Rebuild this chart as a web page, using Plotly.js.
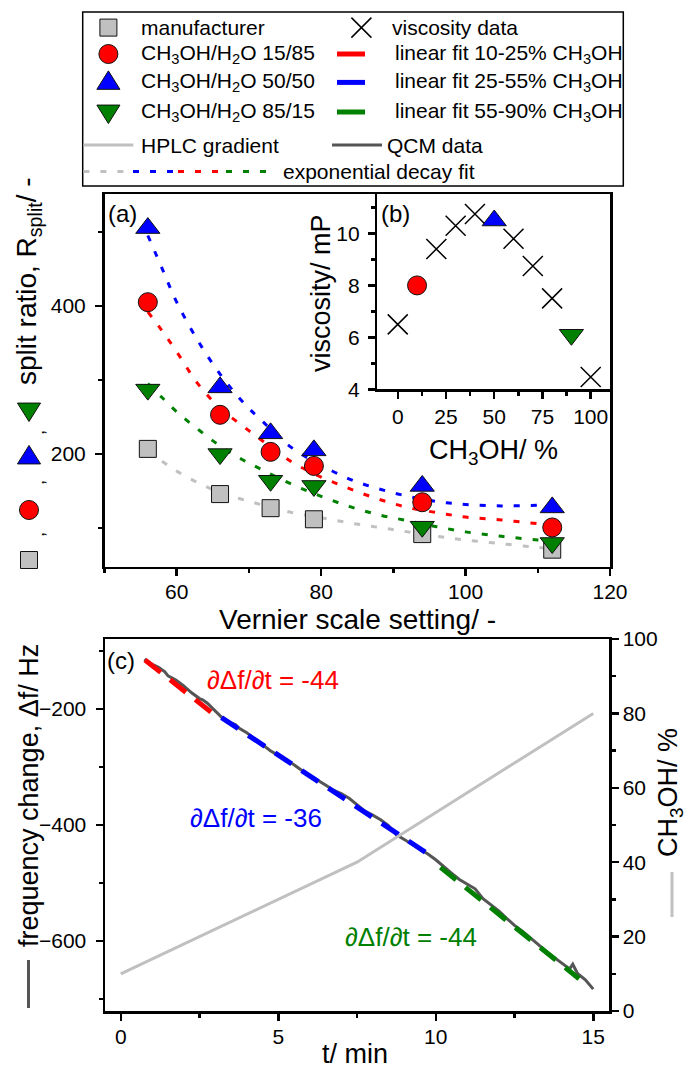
<!DOCTYPE html>
<html><head><meta charset="utf-8">
<script src="https://cdn.plot.ly/plotly-3.0.1.min.js"></script>
<style>html,body{margin:0;padding:0;background:#fff}</style>
</head><body><div id="chart" style="width:686px;height:1068px"></div>
<script>
// ---------- Panel (a): split ratio vs Vernier scale setting ----------
const vernier = [56, 66, 73, 79, 94, 112];
const splitManufacturer = [207, 146, 127, 112, 92, 71];
const split15_85 = [405, 253, 203, 184, 135, 101];
const split50_50 = [505, 290, 228, 205, 157, 128];
const split85_15 = [287, 200, 164, 157, 102, 80];

// exponential decay fits
const fitVernier = [56, 58, 60, 63, 66, 69, 72, 76, 80, 84, 88, 92, 96, 100, 105, 110, 112];
const fitManufacturer = [203, 190, 177, 161, 148, 139, 131, 121, 114, 107, 101, 95, 89, 84, 79, 74, 72];
const fit15_85 = [392, 366, 338, 294, 262, 239, 217, 189, 169, 153, 139, 128, 121, 115, 111, 106, 104];
const fit50_50 = [495, 450, 405, 352, 308, 272, 243, 208, 185, 166, 153, 143, 136, 132, 130, 131, 132];
const fit85_15 = [295, 276, 257, 233, 211, 193, 178, 159, 143, 129, 118, 110, 102, 95, 89, 84, 82];

// ---------- Panel (b): viscosity ----------
const methanolPct = [0, 20, 30, 40, 60, 70, 80, 100];
const viscosity = [6.5, 9.4, 10.3, 10.75, 9.8, 8.75, 7.5, 4.47];
const mixPct = [10, 50, 90];
const mixViscosity = [8.0, 10.5, 6.1];

// ---------- Panel (c): QCM ----------
const qcmTime = [0.75,1.0,1.2,1.4,1.5,1.75,2.0,2.25,2.5,2.6,2.75,3.0,3.25,3.5,3.65,3.75,4.0,4.25,4.5,4.75,5.0,5.25,5.5,5.75,6.0,6.25,6.5,6.75,7.0,7.25,7.5,7.75,8.0,8.25,8.5,8.75,9.0,9.25,9.5,9.75,10.0,10.25,10.5,10.75,11.0,11.25,11.5,11.75,12.0,12.25,12.5,12.75,13.0,13.25,13.5,13.75,14.0,14.25,14.35,14.5,14.75,15.0];
const qcmFreq = [-114,-123,-128,-136,-143,-150,-160,-172,-182,-184,-190,-203,-217,-224,-227,-233,-241,-251,-262,-272,-280,-288,-296,-306,-314,-322,-331,-340,-346,-354,-365,-376,-383,-391,-401,-417,-425,-433,-441,-450,-460,-472,-483,-494,-502,-510,-527,-537,-548,-561,-573,-583,-594,-606,-618,-628,-637,-648,-640,-656,-667,-683];
const hplcTime = [0, 7.5, 15];
const hplcMeOH = [10, 40, 80];
const fitRedTime = [0.77, 3.16], fitRedFreq = [-115.5, -217.8];
const fitBlueTime = [3.2, 9.9], fitBlueFreq = [-215, -455];
const fitGreenTime = [10.15, 14.55], fitGreenFreq = [-473, -665];
const slopeLabels = ['∂Δf/∂t = -44', '∂Δf/∂t = -36', '∂Δf/∂t = -44'];
const slopeLabelTime = [4.84, 4.29, 9.2];
const slopeLabelFreq = [-150, -388, -593];

// ---------- styling / layout ----------
const W = 686, H = 1068;
const px = x => x / W, py = y => 1 - y / H;
const FONT = 'Liberation Sans, Arial, sans-serif';
const RED = '#ff0000', BLUE = '#0000ff', GREEN = '#008000', GRAY = '#c0c0c0', DGRAY = '#555555';
const DOT = '6px,11px';

function axisStyle(extra) {
  return Object.assign({
    showline: true, linecolor: '#000', linewidth: 2.5, mirror: true,
    ticks: 'outside', ticklen: 7, tickwidth: 2.5, tickcolor: '#000',
    showgrid: false, zeroline: false, fixedrange: true,
    tickfont: {size: 21, color: '#000', family: FONT}
  }, extra);
}
const minor = d => ({ticks: 'outside', ticklen: 4, tickwidth: 2.5, tickcolor: '#000', showgrid: false, dtick: d});

const mk = (sym, size, color) => ({symbol: sym, size: size, color: color, line: {color: '#111', width: 1}});

const traces = [
  // (a) fits
  {x: fitVernier, y: fitManufacturer, mode: 'lines', line: {color: GRAY, width: 3, dash: DOT, shape: 'spline'}, xaxis: 'x', yaxis: 'y', showlegend: false, hoverinfo: 'skip'},
  {x: fitVernier, y: fit85_15, mode: 'lines', line: {color: GREEN, width: 3, dash: DOT, shape: 'spline'}, xaxis: 'x', yaxis: 'y', showlegend: false, hoverinfo: 'skip'},
  {x: fitVernier, y: fit15_85, mode: 'lines', line: {color: RED, width: 3, dash: DOT, shape: 'spline'}, xaxis: 'x', yaxis: 'y', showlegend: false, hoverinfo: 'skip'},
  {x: fitVernier, y: fit50_50, mode: 'lines', line: {color: BLUE, width: 3, dash: DOT, shape: 'spline'}, xaxis: 'x', yaxis: 'y', showlegend: false, hoverinfo: 'skip'},
  // (a) markers
  {x: vernier, y: splitManufacturer, mode: 'markers', marker: mk('square', 17, GRAY), name: 'manufacturer', xaxis: 'x', yaxis: 'y', showlegend: false},
  {x: vernier, y: split85_15, mode: 'markers', marker: mk('triangle-down', 21, GREEN), name: 'CH3OH/H2O 85/15', xaxis: 'x', yaxis: 'y', showlegend: false},
  {x: vernier, y: split15_85, mode: 'markers', marker: mk('circle', 19, RED), name: 'CH3OH/H2O 15/85', xaxis: 'x', yaxis: 'y', showlegend: false},
  {x: vernier, y: split50_50, mode: 'markers', marker: mk('triangle-up', 21, BLUE), name: 'CH3OH/H2O 50/50', xaxis: 'x', yaxis: 'y', showlegend: false},
  // (b)
  {x: methanolPct, y: viscosity, mode: 'markers', marker: {symbol: 'x-thin', size: 20, line: {color: '#000', width: 1.5}}, name: 'viscosity data', xaxis: 'x3', yaxis: 'y3', showlegend: false},
  {x: [mixPct[0]], y: [mixViscosity[0]], mode: 'markers', marker: mk('circle', 19, RED), xaxis: 'x3', yaxis: 'y3', showlegend: false},
  {x: [mixPct[1]], y: [mixViscosity[1]], mode: 'markers', marker: mk('triangle-up', 21, BLUE), xaxis: 'x3', yaxis: 'y3', showlegend: false},
  {x: [mixPct[2]], y: [mixViscosity[2]], mode: 'markers', marker: mk('triangle-down', 21, GREEN), xaxis: 'x3', yaxis: 'y3', showlegend: false},
  // (c)
  {x: qcmTime, y: qcmFreq, mode: 'lines', line: {color: DGRAY, width: 3}, name: 'QCM data', xaxis: 'x2', yaxis: 'y2', showlegend: false},
  {x: fitRedTime, y: fitRedFreq, mode: 'lines', line: {color: RED, width: 5, dash: '20px,12px'}, xaxis: 'x2', yaxis: 'y2', showlegend: false},
  {x: fitBlueTime, y: fitBlueFreq, mode: 'lines', line: {color: BLUE, width: 5, dash: '20px,12px'}, xaxis: 'x2', yaxis: 'y2', showlegend: false},
  {x: fitGreenTime, y: fitGreenFreq, mode: 'lines', line: {color: GREEN, width: 5, dash: '20px,12px'}, xaxis: 'x2', yaxis: 'y2', showlegend: false},
  {x: hplcTime, y: hplcMeOH, mode: 'lines', line: {color: GRAY, width: 3}, name: 'HPLC gradient', xaxis: 'x2', yaxis: 'y4', showlegend: false}
];

// ---------- decorative glyphs (legend + axis-title symbols) ----------
function glyph(kind, x, y, s, fill) {
  const b = {xref: 'paper', yref: 'paper', xsizemode: 'pixel', ysizemode: 'pixel',
             xanchor: px(x), yanchor: py(y), fillcolor: fill, line: {color: '#111', width: 1}, layer: 'above'};
  const h = s / 2;
  if (kind === 'square') return Object.assign(b, {type: 'rect', x0: -h, x1: h, y0: -h, y1: h});
  if (kind === 'circle') return Object.assign(b, {type: 'circle', x0: -h, x1: h, y0: -h, y1: h});
  const w = s * 0.55;
  if (kind === 'up') return Object.assign(b, {type: 'path', path: `M${-w},${-s*0.33} L${w},${-s*0.33} L0,${s*0.55} Z`});
  if (kind === 'down') return Object.assign(b, {type: 'path', path: `M${-w},${s*0.33} L${w},${s*0.33} L0,${-s*0.55} Z`});
  if (kind === 'x') return Object.assign(b, {type: 'path', fillcolor: 'rgba(0,0,0,0)', line: {color: '#000', width: 1.5}, path: `M${-h},${-h} L${h},${h} M${-h},${h} L${h},${-h}`});
}
function seg(x0, x1, y, color, width, dash) {
  return {type: 'line', xref: 'paper', yref: 'paper', x0: px(x0), x1: px(x1), y0: py(y), y1: py(y),
          line: {color: color, width: width, dash: dash || 'solid'}, layer: 'above'};
}
function vseg(x, y0, y1, color, width) {
  return {type: 'line', xref: 'paper', yref: 'paper', x0: px(x), x1: px(x), y0: py(y0), y1: py(y1),
          line: {color: color, width: width}, layer: 'above'};
}

const rowY = [27.6, 54, 82.4, 112, 145, 171.5];
const shapes = [
  {type: 'rect', xref: 'paper', yref: 'paper', x0: px(82.7), x1: px(623.3), y0: py(186), y1: py(12),
   line: {color: '#000', width: 1.5}, fillcolor: 'rgba(0,0,0,0)'},
  glyph('square', 108.4, rowY[0], 17, GRAY),
  glyph('circle', 108.4, rowY[1], 19, RED),
  glyph('up', 108.4, rowY[2], 21, BLUE),
  glyph('down', 108.4, rowY[3], 21, GREEN),
  glyph('x', 361.4, rowY[0], 20),
  seg(337, 365, rowY[1], RED, 5),
  seg(337, 365, rowY[2], BLUE, 5),
  seg(337, 365, rowY[3], GREEN, 5),
  seg(83.4, 133.3, rowY[4], GRAY, 3),
  seg(332, 382, rowY[4], DGRAY, 3),
  seg(83.4, 133, rowY[5], GRAY, 3, DOT),
  seg(133, 178, rowY[5], BLUE, 3, DOT),
  seg(178, 226, rowY[5], RED, 3, DOT),
  seg(226, 276, rowY[5], GREEN, 3, DOT),
  // symbols in the (a) y-axis title
  glyph('square', 29, 560, 17, GRAY),
  glyph('circle', 29, 510, 19, RED),
  glyph('up', 29, 457, 21, BLUE),
  glyph('down', 29, 410, 21, GREEN),
  // line keys of the (c) axis titles
  vseg(28.5, 960, 1008, DGRAY, 3),
  vseg(672, 872, 917, GRAY, 3)
];

function txt(text, x, y, o) {
  return Object.assign({xref: 'paper', yref: 'paper', x: px(x), y: py(y), text: text, showarrow: false,
    xanchor: 'left', yanchor: 'middle', font: {size: 21, color: '#000', family: FONT}}, o || {});
}
const f = s => ({size: s, color: '#000', family: FONT});
const CH3OH = 'CH<sub>3</sub>OH';
const annotations = [
  // legend texts
  txt('manufacturer', 138.6, rowY[0]),
  txt(CH3OH + '/H<sub>2</sub>O 15/85', 138.6, rowY[1]),
  txt(CH3OH + '/H<sub>2</sub>O 50/50', 138.6, rowY[2]),
  txt(CH3OH + '/H<sub>2</sub>O 85/15', 138.6, rowY[3]),
  txt('HPLC gradient', 138.6, rowY[4]),
  txt('viscosity data', 389.9, rowY[0]),
  txt('linear fit 10-25% ' + CH3OH, 392.7, rowY[1]),
  txt('linear fit 25-55% ' + CH3OH, 392.7, rowY[2]),
  txt('linear fit 55-90% ' + CH3OH, 392.7, rowY[3]),
  txt('QCM data', 384.6, rowY[4]),
  txt('exponential decay fit', 281.2, rowY[5]),
  // panel letters
  txt('(a)', 106, 214, {font: f(24)}),
  txt('(b)', 379, 214, {font: f(24)}),
  txt('(c)', 105, 660, {font: f(24)}),
  // axis titles
  txt('Vernier scale setting/ -', 357, 619, {xanchor: 'center', font: f(28)}),
  txt('split ratio, R<sub>split</sub>/ -', 29, 281, {xanchor: 'center', textangle: -90, font: f(28)}),
  txt(',', 38, 535, {xanchor: 'center', textangle: -90, font: f(18)}),
  txt(',', 38, 483, {xanchor: 'center', textangle: -90, font: f(18)}),
  txt(',', 38, 433, {xanchor: 'center', textangle: -90, font: f(18)}),
  txt('viscosity/ mP', 321, 293, {xanchor: 'center', textangle: -90, font: f(27)}),
  txt(CH3OH + '/ %', 493, 452, {xanchor: 'center', font: f(27)}),
  txt('t/ min', 355, 1054, {xanchor: 'center', font: f(27)}),
  txt('frequency change, Δf/ Hz', 29, 796, {xanchor: 'center', textangle: -90, font: f(27)}),
  txt(CH3OH + '/ %', 670, 793, {xanchor: 'center', textangle: -90, font: f(27)})
];
const slopeColors = [RED, BLUE, GREEN];
slopeLabels.forEach((t, i) => annotations.push({
  xref: 'x2', yref: 'y2', x: slopeLabelTime[i], y: slopeLabelFreq[i], text: t, showarrow: false,
  xanchor: 'center', yanchor: 'middle', font: {size: 26, color: slopeColors[i], family: FONT}
}));

const layout = {
  width: W, height: H, margin: {l: 0, r: 0, t: 0, b: 0},
  paper_bgcolor: '#fff', plot_bgcolor: '#fff', showlegend: false,
  font: {family: FONT, color: '#000'},
  xaxis: axisStyle({domain: [px(104.5), px(610)], range: [50, 120], anchor: 'y', dtick: 20, tick0: 0, minor: minor(10), ticklabelstandoff: -2}),
  yaxis: axisStyle({domain: [py(566.7), py(194)], range: [48, 551], anchor: 'x', dtick: 200, tick0: 0, minor: minor(100), ticklabelstandoff: 5}),
  xaxis3: axisStyle({domain: [px(377.3), px(610)], range: [-10.6, 110], anchor: 'y3', dtick: 25, tick0: 0, minor: minor(12.5)}),
  yaxis3: axisStyle({domain: [py(389.3), py(194)], range: [4, 11.52], anchor: 'x3', dtick: 2, tick0: 0, minor: minor(1), ticklabelstandoff: 4}),
  xaxis2: axisStyle({domain: [px(105), px(609)], range: [-0.5, 15.5], anchor: 'y2', dtick: 5, tick0: 0, minor: minor(2.5), ticklabelstandoff: -2}),
  yaxis2: axisStyle({domain: [py(1011), py(639)], range: [-720.7, -79.3], anchor: 'x2', dtick: 200, tick0: 0, mirror: false, minor: minor(100), ticklabelstandoff: 5}),
  yaxis4: axisStyle({overlaying: 'y2', side: 'right', anchor: 'x2', range: [0, 100], dtick: 20, tick0: 0, mirror: false, minor: minor(10)}),
  shapes: shapes,
  annotations: annotations
};

Plotly.newPlot('chart', traces, layout, {staticPlot: true, displayModeBar: false});
</script>
</body></html>
